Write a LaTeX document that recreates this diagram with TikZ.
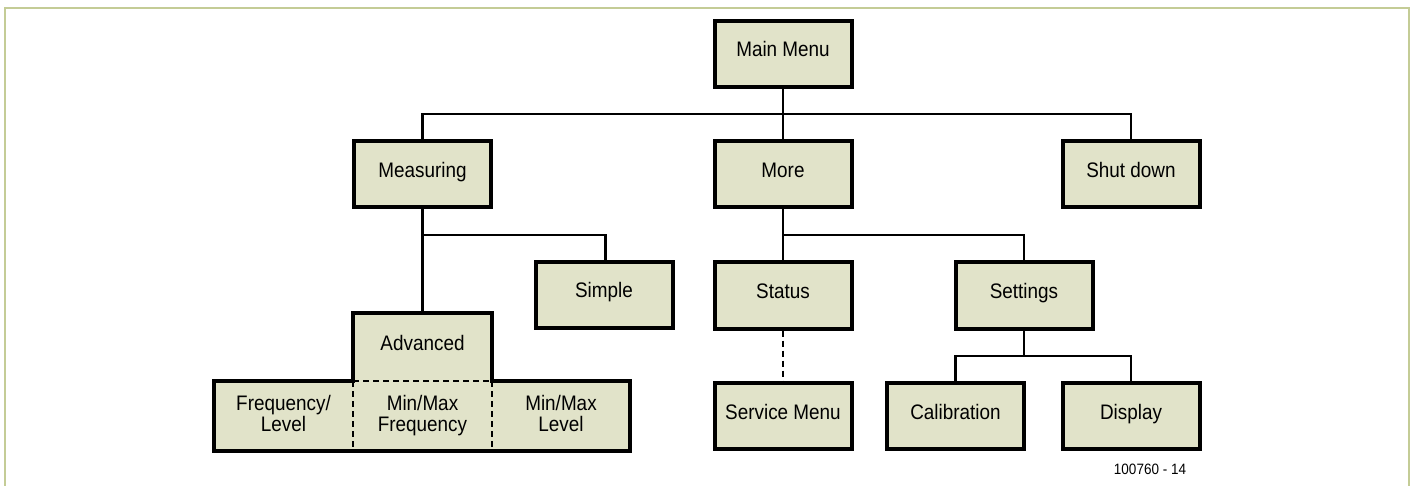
\documentclass[tikz,border=0pt]{standalone}
\usepackage{fontspec}
\setmainfont{Liberation Sans}[FakeStretch=0.9]
\definecolor{boxfill}{RGB}{225,227,201}
\definecolor{framecol}{RGB}{196,204,150}
\tikzset{
  box/.style={draw=black, line width=4pt, fill=boxfill, minimum width=137pt, minimum height=66pt,
    inner sep=0pt, font=\fontsize{21}{21}\selectfont, text height=15pt, text depth=9pt},
  cell/.style={fill=boxfill, minimum width=139pt, minimum height=70pt, inner sep=0pt, outer sep=0pt,
    font=\fontsize{21}{21}\selectfont, align=center},
  conn/.style={line width=2.6pt, black},
  dconn/.style={line width=2.4pt, black, dash pattern=on 6pt off 4pt},
  outline/.style={line width=4pt, black, line join=miter},
}
\begin{document}
\begin{tikzpicture}[x=1pt,y=-1pt]
\useasboundingbox (0,0) rectangle (1416,486);
\draw[framecol, line width=2.5pt] (5,487) -- (5,8) -- (1409,8) -- (1409,487);

% simple boxes
\node[box] (main) at (783,54) {Main Menu};
\node[box] (meas) at (422.5,174.5) {Measuring};
\node[box] (more) at (783,174.5) {More};
\node[box] (shut) at (1131,174.5) {Shut down};
\node[box] (simple) at (604,295) {Simple};
\node[box] (status) at (783,295.5) {Status};
\node[box] (sett) at (1024,295.5) {Settings};
\node[box] (serv) at (783,416) {Service Menu};
\node[box] (cal) at (955.5,416) {Calibration};
\node[box] (disp) at (1131,416) {Display};

% compound group
\node[cell, minimum height=68pt, text height=15pt, text depth=9pt] (adv) at (422.5,347) {Advanced};
\node[cell] (fl) at (283.5,416) {Frequency/\\Level\vphantom{y}};
\node[cell] (mf) at (422.5,416) {Min/Max\\Frequency};
\node[cell, minimum width=138pt] (ml) at (561,416) {Min/Max\\Level\vphantom{y}};
\draw[outline] (fl.north west) -- (fl.south west) -- (ml.south east) -- (ml.north east)
  -- (adv.south east) -- (adv.north east) -- (adv.north west) -- (adv.south west) -- cycle;
\draw[dconn] (mf.north west) -- (mf.north east);
\draw[dconn] (mf.north west) -- (mf.south west);
\draw[dconn] (mf.north east) -- (mf.south east);

% junctions
\coordinate (j1) at (783,114);
\coordinate (j2) at (422.5,235);
\coordinate (j3) at (783,235);
\coordinate (j4) at (1024,356);

% connectors
\draw[conn] (main.south) -- (j1);
\draw[conn] (meas.north) |- (j1) -| (shut.north);
\draw[conn] (j1) -- (more.north);
\draw[conn] (meas.south) -- (adv.north);
\draw[conn] (j2) -| ([xshift=1.5pt]simple.north);
\draw[conn] (more.south) -- (status.north);
\draw[conn] (j3) -| (sett.north);
\draw[conn] (sett.south) -- (j4);
\draw[conn] (cal.north) |- (j4) -| (disp.north);
\draw[dconn] (status.south) -- (serv.north);

\node[font=\fontsize{15}{15}\selectfont, inner sep=0pt] (code) at (1150,469) {100760 - 14};
\end{tikzpicture}
\end{document}
